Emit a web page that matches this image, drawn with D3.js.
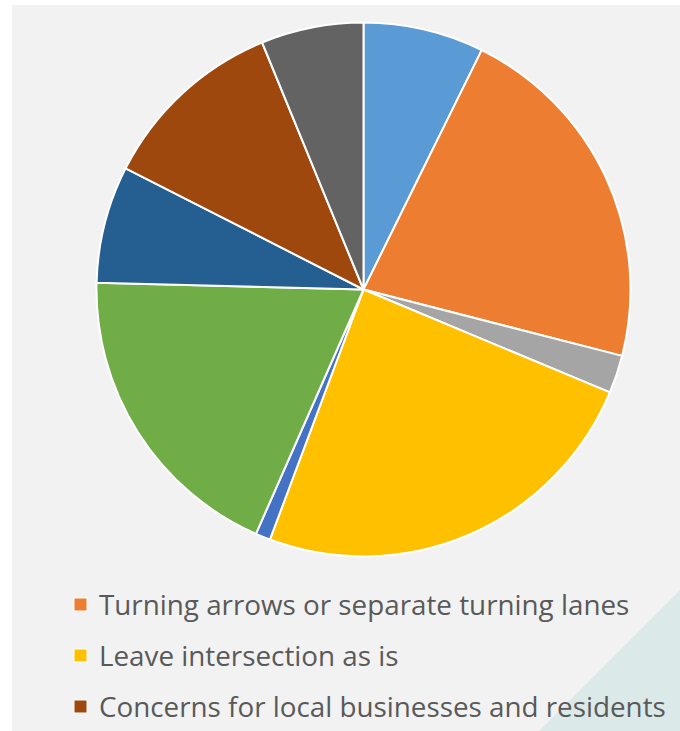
<!DOCTYPE html>
<html>
<head>
<meta charset="utf-8">
<script src="https://cdn.jsdelivr.net/npm/d3@7/dist/d3.min.js"></script>
<style>
  html, body { margin: 0; padding: 0; background: #ffffff; }
  svg { display: block; }
</style>
</head>
<body>
<svg id="chart" width="680" height="731"></svg>
<script>
// Survey responses, share of all answers (%), in clockwise order from 12 o'clock
const categories = [
  "Response A",
  "Turning arrows or separate turning lanes",
  "Response C",
  "Leave intersection as is",
  "Response E",
  "Response F",
  "Response G",
  "Concerns for local businesses and residents",
  "Response I"
];
const values = [7.3, 21.7, 2.3, 24.4, 0.9, 18.8, 7.1, 11.3, 6.2];
const colors = ["#5B9BD5", "#ED7D31", "#A5A5A5", "#FFC000", "#4472C4",
                "#70AD47", "#255E91", "#9E480E", "#636363"];
// Categories listed in the legend
const legendItems = [
  "Turning arrows or separate turning lanes",
  "Leave intersection as is",
  "Concerns for local businesses and residents"
];

const W = 680, H = 731;
const svg = d3.select("#chart");

// panel background
svg.append("rect")
  .attr("x", 12).attr("y", 5)
  .attr("width", W - 12).attr("height", H - 5)
  .attr("fill", "#f2f2f2");

// decorative corner triangle
svg.append("path")
  .attr("d", `M${W},590 L${W},${H} L539,${H} Z`)
  .attr("fill", "#dbe9e8");

const cx = 363.5, cy = 289.5, r = 267;

const color = d3.scaleOrdinal().domain(categories).range(colors);
const pie = d3.pie().sort(null).value(d => d.value);
const arc = d3.arc().innerRadius(0).outerRadius(r);
const data = categories.map((c, i) => ({ name: c, value: values[i] }));

svg.append("g")
  .attr("transform", `translate(${cx},${cy})`)
  .selectAll("path")
  .data(pie(data))
  .join("path")
  .attr("d", arc)
  .attr("fill", d => color(d.data.name))
  .attr("stroke", "#ffffff")
  .attr("stroke-width", 2)
  .attr("stroke-linejoin", "round");

// legend
const legendY = d3.scalePoint().domain(legendItems).range([605, 707]);
const lg = svg.append("g")
  .selectAll("g")
  .data(legendItems)
  .join("g")
  .attr("transform", d => `translate(74,${legendY(d)})`);

lg.append("rect")
  .attr("x", 0).attr("y", -7)
  .attr("width", 13).attr("height", 13)
  .attr("fill", d => color(d))
  .attr("stroke", "#ffffff")
  .attr("stroke-width", 1);

lg.append("text")
  .attr("x", 25).attr("y", 10)
  .attr("font-family", "'Open Sans', Lato, sans-serif")
  .attr("font-size", 27.8)
  .attr("fill", "#595959")
  .text(d => d);
</script>
</body>
</html>
